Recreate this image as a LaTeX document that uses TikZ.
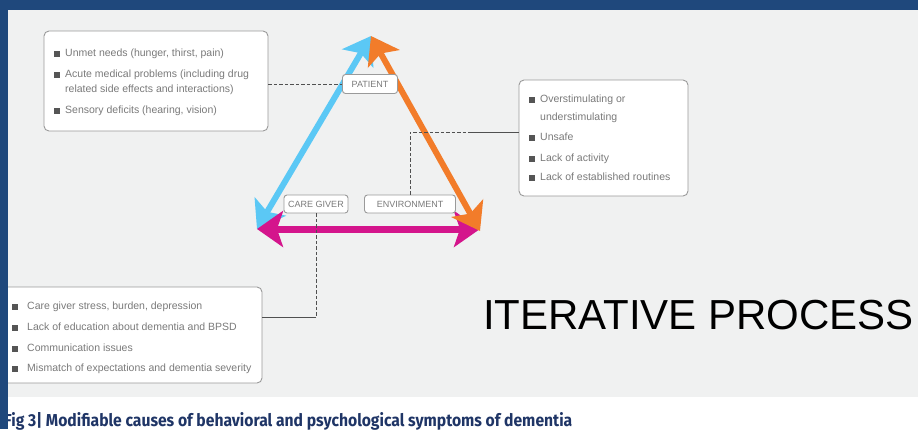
\documentclass[tikz,border=0pt]{standalone}
\usepackage{fontspec}
\setmainfont{Liberation Sans}
\newfontfamily\capfont{Fira Sans}
\usetikzlibrary{arrows.meta}
\definecolor{navy}{HTML}{1F487C}
\definecolor{panel}{HTML}{F0F1F1}
\definecolor{cblue}{HTML}{5BC8F5}
\definecolor{corange}{HTML}{F27C2A}
\definecolor{cmag}{HTML}{D4158C}
\definecolor{txtgray}{HTML}{7A7A7A}
\definecolor{bulgray}{HTML}{555555}
\definecolor{boxgray}{HTML}{9A9A9A}
\definecolor{linegray}{HTML}{505050}
\definecolor{capblue}{HTML}{1F3566}
\tikzset{
  listbox/.style={draw=boxgray, line width=0.9bp, fill=white, rounded corners=5bp, inner sep=0pt},
  labbox/.style={draw=boxgray, line width=0.9bp, fill=white, rounded corners=3bp, inner sep=0pt,
     minimum height=19bp, text=txtgray, font=\fontsize{9bp}{10bp}\selectfont},
  item/.style={anchor=base west, inner sep=0pt, text=txtgray, font=\fontsize{10.5bp}{12bp}\selectfont},
  bul/.style={fill=bulgray, inner sep=0pt, minimum width=5.5bp, minimum height=6bp},
  dashline/.style={draw=linegray, line width=1bp, dash pattern=on 3.5bp off 2bp},
  solidline/.style={draw=linegray, line width=1bp},
  tips/.style={{Stealth[length=26bp, width=36bp, inset=6bp]}-{Stealth[length=26bp, width=36bp, inset=6bp]}},
  side/.style={line width=#1, tips},
}
\begin{document}
\begin{tikzpicture}[x=1bp,y=-1bp]
\useasboundingbox (0,0) rectangle (918,429);
\fill[white] (0,0) rectangle (918,429);
\fill[panel] (0,10) rectangle (918,397);

% corner points of the triangle
\coordinate (top) at (371,36);
\coordinate (bl) at (257,229);
\coordinate (br) at (480,231);

% list boxes
\node[listbox, minimum width=224bp, minimum height=100bp] (pbox) at (156,81) {};
\node[listbox, minimum width=169bp, minimum height=116bp] (ebox) at (603.5,138) {};
\node[listbox, minimum width=262bp, minimum height=96bp] (cbox) at (131,335) {};

% patient items
\node[bul] (pb1) at (57,53.5) {};
\node[item] (pt1) at (65,56) {Unmet needs (hunger, thirst, pain)};
\node[bul] (pb2) at (57,74.5) {};
\node[item] (pt2) at (65,77) {Acute medical problems (including drug};
\node[item] (pt2b) at (65,92) {related side effects and interactions)};
\node[bul] (pb3) at (57,110.5) {};
\node[item] (pt3) at (65,113) {Sensory deficits (hearing, vision)};

% environment items
\node[bul] (eb1) at (532,99.5) {};
\node[item] (et1) at (540,102) {Overstimulating or};
\node[item] (et1b) at (540,120) {understimulating};
\node[bul] (eb2) at (532,137.5) {};
\node[item] (et2) at (540,140) {Unsafe};
\node[bul] (eb3) at (532,158.5) {};
\node[item] (et3) at (540,161) {Lack of activity};
\node[bul] (eb4) at (532,177.5) {};
\node[item] (et4) at (540,180) {Lack of established routines};

% caregiver items
\node[bul] (cb1) at (15,306.5) {};
\node[item] (ct1) at (27,309) {Care giver stress, burden, depression};
\node[bul] (cb2) at (15,327.5) {};
\node[item] (ct2) at (27,330) {Lack of education about dementia and BPSD};
\node[bul] (cb3) at (15,348.5) {};
\node[item] (ct3) at (27,351) {Communication issues};
\node[bul] (cb4) at (15,368.5) {};
\node[item] (ct4) at (27,371) {Mismatch of expectations and dementia severity};

% triangle sides
\draw[cblue, side=6bp] (bl) -- (top);
\draw[cmag, side=7bp] (bl) -- (bl -| br);
\draw[corange, side=6bp] (top) -- (br);

% labels
\node[labbox, minimum width=55bp] (patient) at (370,84) {PATIENT};
\node[labbox, minimum width=64bp, minimum height=18bp] (caregiver) at (316,204) {CARE GIVER};
\node[labbox, minimum width=91bp, minimum height=18bp] (environment) at (410,204) {ENVIRONMENT};

% connectors
\draw[dashline] (pbox.east |- patient.west) -- (patient.west);
\coordinate (ebend) at (470,132);
\draw[dashline] (environment.north) |- (ebend);
\draw[solidline] (ebend) -- (ebox.west |- ebend);
\coordinate (cbend) at (316,317);
\draw[dashline] (caregiver.south) -- (cbend);
\draw[solidline] (cbend) -- (cbox.east |- cbend);

% big title
\node[anchor=base, inner sep=0pt, font=\fontsize{42bp}{48bp}\selectfont] (iter) at (698.5,329) {ITERATIVE PROCESS};

% caption
\node[anchor=base west, inner sep=0pt, text=capblue] (caption) at (4,426)
  {\resizebox{568bp}{14bp}{\capfont\bfseries Fig 3| Modifiable causes of behavioral and psychological symptoms of dementia}};

% dark frame
\fill[navy] (0,0) rectangle (918,10);
\fill[navy] (0,0) rectangle (8,429);
\end{tikzpicture}
\end{document}
